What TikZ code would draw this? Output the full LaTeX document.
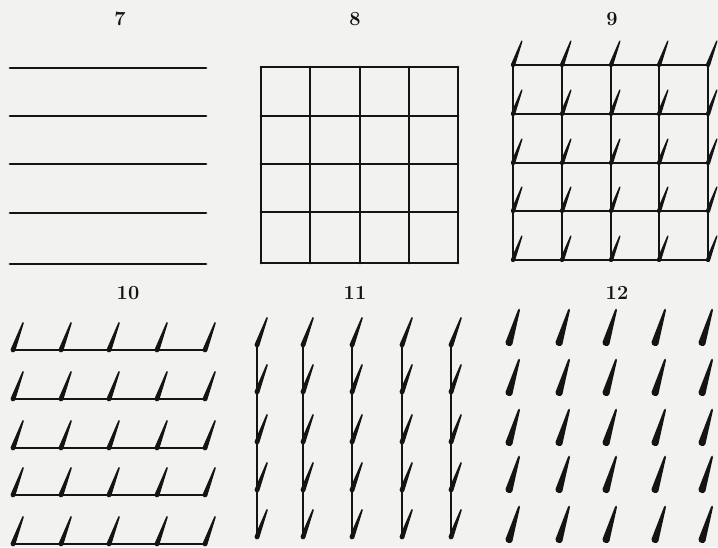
\documentclass[tikz,border=0pt]{standalone}
\usepackage{tikz}
\usetikzlibrary{positioning}
\definecolor{paper}{RGB}{242,242,241}
\definecolor{ink}{RGB}{20,20,20}
\tikzset{
  lbl/.style={font=\fontsize{20}{20}\selectfont\bfseries, text=ink, inner sep=0pt},
  wire/.style={draw=ink, line width=2.7pt, line cap=round},
  barb/.pic={\fill[ink] (-2.3,-0.8) -- (9.25,-27.3) .. controls (9.6,-28.6) and (11.2,-28) .. (10.75,-26.7) -- (2.3,0.8) .. controls (1.6,3.6) and (-3.4,2.4) .. cycle;},
  spike/.pic={\fill[ink] (-3.45,-1.04) -- (9.04,-33.29) .. controls (9.4,-35) and (11.3,-34.5) .. (10.96,-32.71) -- (3.45,1.04) .. controls (2.5,4.5) and (-4.5,3) .. cycle;},
}

\begin{document}
\begin{tikzpicture}[x=1pt, y=-1pt]
\useasboundingbox[fill=paper] (0,0) rectangle (718,547);
% panel labels
\node[lbl] (l7) at (120,19) {7};
\node[lbl] (l8) at (355,19) {8};
\node[lbl] (l9) at (612,19) {9};
\node[lbl] (l10) at (128,293) {10};
\node[lbl] (l11) at (355,293) {11};
\node[lbl] (l12) at (617,293) {12};
% 7: parallel lines
\foreach \y in {68,116,164,213,264}
  \draw[wire] (10,\y) -- (206,\y);
% 8: plain grid
\foreach \x in {261,310,360,409,458}
  \draw[wire] (\x,67) -- (\x,263);
\foreach \y in {67,116,164,212,263}
  \draw[wire] (261,\y) -- (458,\y);
% 9: grid with barbs at the crossings
\foreach \x in {513,562,611,659,708}
  \draw[wire] (\x,65) -- (\x,260);
\foreach \y in {65,114,163,211,260}
  \draw[wire] (513,\y) -- (708,\y);
\foreach \x in {513,562,611,659,708}
  \foreach \y in {65,114,163,211,260}
    \pic[scale=0.88] at (\x,\y) {barb};
% 10: rows only
\foreach \y in {350,399,448,495,544} {
  \draw[wire] (13,\y) -- (205,\y);
  \foreach \x in {13,61,109,157,205}
    \pic at (\x,\y) {barb};
}
% 11: columns only
\foreach \x in {257,303,352,402,451} {
  \draw[wire] (\x,345) -- (\x,537);
  \foreach \y in {345,392,442,490,537}
    \pic at (\x,\y) {barb};
}
% 12: barbs alone
\foreach \x in {509,559,606,655,702}
  \foreach \y in {343,393,443,490,540}
    \pic at (\x,\y) {spike};
\end{tikzpicture}
\end{document}
